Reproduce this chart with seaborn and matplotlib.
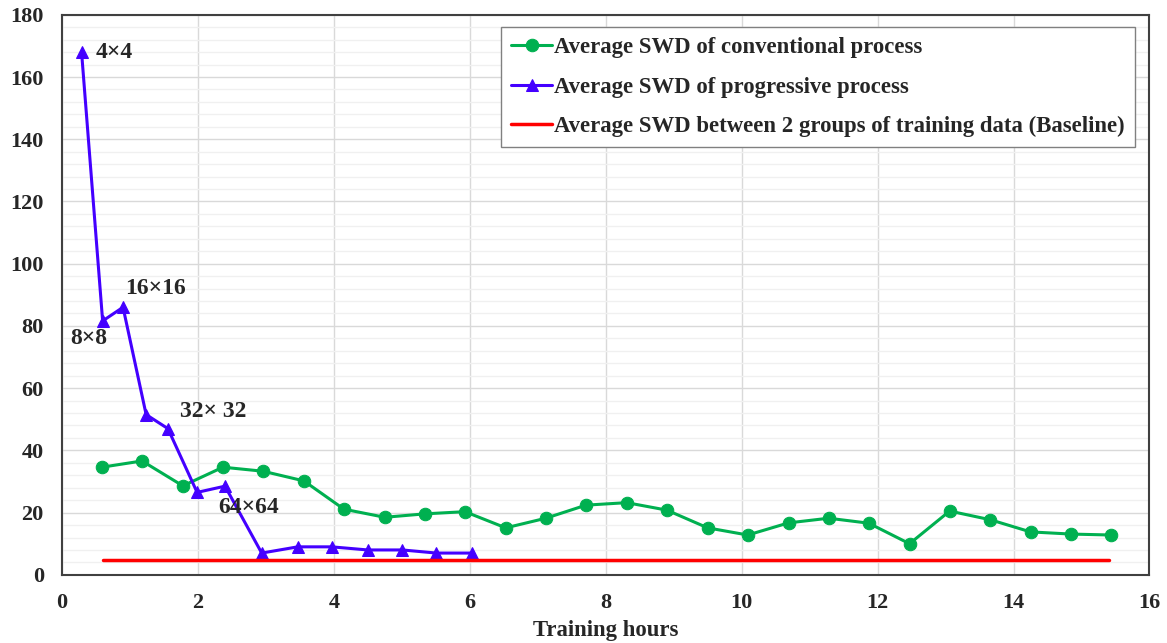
import numpy as np
import pandas as pd
import matplotlib
matplotlib.use("Agg")
import matplotlib.pyplot as plt
import seaborn as sns
from matplotlib.ticker import MultipleLocator

# ---- data ----
conv_hours = [0.59, 1.18, 1.78, 2.37, 2.96, 3.56, 4.15, 4.75, 5.34, 5.93, 6.53, 7.12, 7.71,
              8.31, 8.90, 9.50, 10.09, 10.69, 11.28, 11.87, 12.47, 13.06, 13.66, 14.25, 14.85, 15.44]
conv_swd = [34.6, 36.6, 28.6, 34.6, 33.3, 30.2, 21.1, 18.5, 19.6, 20.3, 15.1, 18.2, 22.4,
            23.2, 20.8, 15.1, 12.8, 16.7, 18.2, 16.6, 10.0, 20.5, 17.7, 13.8, 13.1, 12.8]
prog_hours = [0.29, 0.60, 0.90, 1.24, 1.56, 1.99, 2.40, 2.94, 3.47, 3.97, 4.50, 5.01, 5.51, 6.03]
prog_swd = [168.0, 81.6, 86.0, 51.5, 47.0, 26.5, 28.5, 7.0, 9.0, 9.0, 8.0, 8.0, 7.0, 7.0]
base_hours = [0.60, 15.40]
base_swd = [4.8, 4.8]
ann_text = ["4×4", "8×8", "16×16", "32× 32", "64×64"]
ann_x = [0.50, 0.12, 0.93, 1.74, 2.30]
ann_y = [168.0, 76.0, 92.0, 52.4, 21.8]

labels = ["Average SWD of conventional process",
          "Average SWD of progressive process",
          "Average SWD between 2 groups of training data (Baseline)"]

sns.set_theme(style="white")
plt.rcParams['font.family'] = ['Liberation Serif', 'DejaVu Serif']
plt.rcParams['font.weight'] = 'bold'

fig = plt.figure(figsize=(11.67, 6.43), dpi=100)
ax = fig.add_axes([0.053, 0.106, 0.932, 0.871])

green = "#00b050"
blue = "#4400ff"
red = "#ff0000"

sns.lineplot(x=conv_hours, y=conv_swd, ax=ax, color=green, lw=2.2, marker="o",
             markersize=9, markeredgecolor=green, label=labels[0])
sns.lineplot(x=prog_hours, y=prog_swd, ax=ax, color=blue, lw=2.2, marker="^",
             markersize=9, markeredgecolor=blue, label=labels[1])
sns.lineplot(x=base_hours, y=base_swd, ax=ax, color=red, lw=2.5, label=labels[2])

ax.set_xlim(0, 16)
ax.set_ylim(0, 180)
ax.xaxis.set_major_locator(MultipleLocator(2))
ax.yaxis.set_major_locator(MultipleLocator(20))
ax.yaxis.set_minor_locator(MultipleLocator(4))
ax.grid(which="major", axis="both", color="#d9d9d9", lw=1.0)
ax.grid(which="minor", axis="y", color="#f0f0f0", lw=1.0)
ax.set_axisbelow(True)
ax.tick_params(axis="both", which="both", length=0, labelsize=16)
ax.tick_params(axis="y", pad=13)
ax.tick_params(axis="x", pad=13)
for lab in ax.get_xticklabels() + ax.get_yticklabels():
    lab.set_fontweight("bold")
for sp in ax.spines.values():
    sp.set_color("#404040")
    sp.set_linewidth(1.5)

ax.set_xlabel("Training hours", fontsize=16.4, fontweight="bold", labelpad=5)
ax.set_ylabel("")

for t, x, y in zip(ann_text, ann_x, ann_y):
    ax.text(x, y, t, fontsize=17, fontweight="bold", ha="left", va="center")

leg = ax.legend(loc="upper right", bbox_to_anchor=(0.987, 0.978), fontsize=16.4,
                frameon=True, fancybox=False, edgecolor="#808080", framealpha=1,
                handlelength=1.8, handletextpad=0.1, labelspacing=0.8,
                borderpad=0.45, borderaxespad=0)
leg.get_frame().set_linewidth(1.0)
for txt in leg.get_texts():
    txt.set_fontweight("bold")

fig.savefig("out.png", dpi=100)
